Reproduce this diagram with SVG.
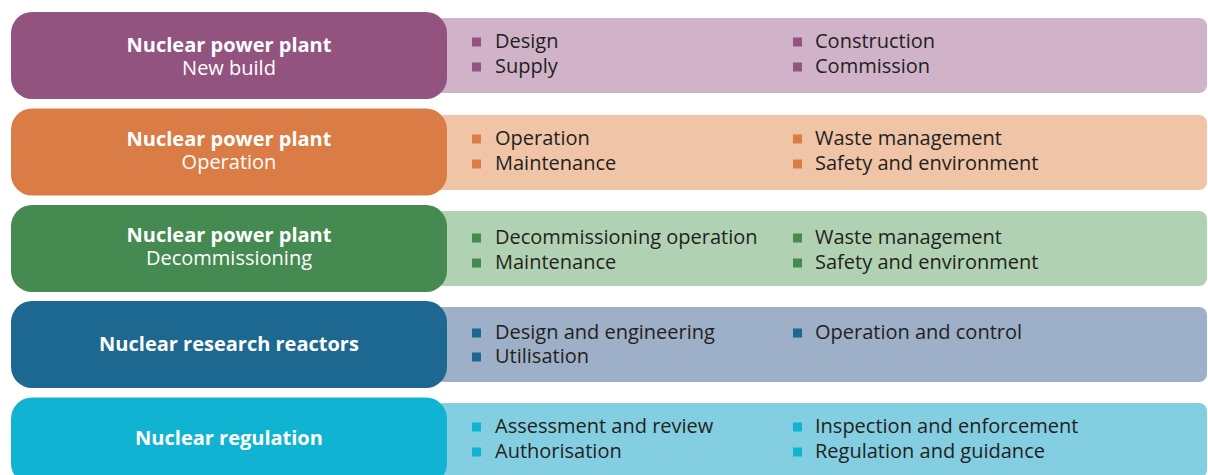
<svg xmlns="http://www.w3.org/2000/svg" width="1208" height="475" viewBox="0 0 1208 475">
<style>
.hd{fill:#fff;font-family:"Open Sans","Noto Sans",sans-serif;font-size:20px;text-anchor:middle}
.b{font-weight:bold}
.it{fill:#231f20;font-family:"Open Sans","Noto Sans",sans-serif;font-size:20px}
</style>
<rect width="1208" height="475" fill="#fff"/>
<g id="row1">
<rect x="436" y="18" width="771" height="75" rx="8" fill="#d1b3c9"/>
<rect x="11" y="12" width="436" height="87" rx="21" fill="#93537f"/>
<text class="hd b" x="229" y="52">Nuclear power plant</text>
<text class="hd" x="229" y="75">New build</text>
<g fill="#93537f"><rect x="472" y="37.5" width="9" height="9"/><rect x="472" y="62.5" width="9" height="9"/><rect x="793" y="37.5" width="9" height="9"/><rect x="793" y="62.5" width="9" height="9"/></g>
<text class="it" x="495" y="48">Design</text>
<text class="it" x="495" y="73">Supply</text>
<text class="it" x="815" y="48">Construction</text>
<text class="it" x="815" y="73">Commission</text>
</g>
<g id="row2">
<rect x="436" y="115" width="771" height="75" rx="8" fill="#f0c4a7"/>
<rect x="11" y="108.5" width="436" height="87" rx="21" fill="#da7c45"/>
<text class="hd b" x="229" y="146">Nuclear power plant</text>
<text class="hd" x="229" y="169">Operation</text>
<g fill="#da7c45"><rect x="472" y="134.5" width="9" height="9"/><rect x="472" y="159.5" width="9" height="9"/><rect x="793" y="134.5" width="9" height="9"/><rect x="793" y="159.5" width="9" height="9"/></g>
<text class="it" x="495" y="145">Operation</text>
<text class="it" x="495" y="170">Maintenance</text>
<text class="it" x="815" y="145">Waste management</text>
<text class="it" x="815" y="170">Safety and environment</text>
</g>
<g id="row3">
<rect x="436" y="211" width="771" height="75" rx="8" fill="#b1d2b2"/>
<rect x="11" y="205" width="436" height="87" rx="21" fill="#458a51"/>
<text class="hd b" x="229" y="242">Nuclear power plant</text>
<text class="hd" x="229" y="265">Decommissioning</text>
<g fill="#458a51"><rect x="472" y="233.5" width="9" height="9"/><rect x="472" y="258.5" width="9" height="9"/><rect x="793" y="233.5" width="9" height="9"/><rect x="793" y="258.5" width="9" height="9"/></g>
<text class="it" x="495" y="244">Decommissioning operation</text>
<text class="it" x="495" y="269">Maintenance</text>
<text class="it" x="815" y="244">Waste management</text>
<text class="it" x="815" y="269">Safety and environment</text>
</g>
<g id="row4">
<rect x="436" y="307" width="771" height="75" rx="8" fill="#9eb0c7"/>
<rect x="11" y="301" width="436" height="87" rx="21" fill="#1d6890"/>
<text class="hd b" x="229" y="351">Nuclear research reactors</text>
<g fill="#1d6890"><rect x="472" y="328.5" width="9" height="9"/><rect x="472" y="352.5" width="9" height="9"/><rect x="793" y="328.5" width="9" height="9"/></g>
<text class="it" x="495" y="339">Design and engineering</text>
<text class="it" x="495" y="363">Utilisation</text>
<text class="it" x="815" y="339">Operation and control</text>
</g>
<g id="row5">
<rect x="436" y="403" width="771" height="75" rx="8" fill="#84cee2"/>
<rect x="11" y="397.5" width="436" height="87" rx="21" fill="#10b3d1"/>
<text class="hd b" x="229" y="445">Nuclear regulation</text>
<g fill="#10b3d1"><rect x="472" y="422.5" width="9" height="9"/><rect x="472" y="447.5" width="9" height="9"/><rect x="793" y="422.5" width="9" height="9"/><rect x="793" y="447.5" width="9" height="9"/></g>
<text class="it" x="495" y="433">Assessment and review</text>
<text class="it" x="495" y="458">Authorisation</text>
<text class="it" x="815" y="433">Inspection and enforcement</text>
<text class="it" x="815" y="458">Regulation and guidance</text>
</g>
<g id="connectors"/>
</svg>
